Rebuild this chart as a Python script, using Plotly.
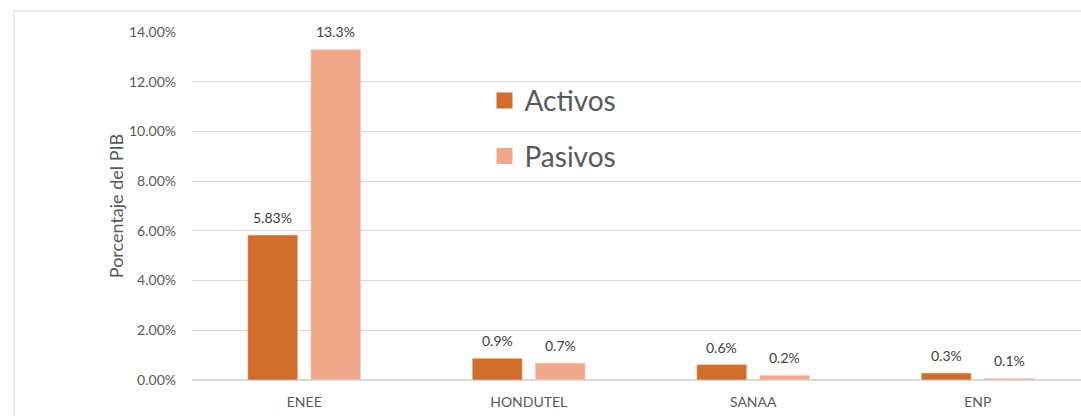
import plotly.graph_objects as go

categories = ["ENEE", "HONDUTEL", "SANAA", "ENP"]
activos = [5.83, 0.87, 0.62, 0.28]
pasivos = [13.3, 0.68, 0.19, 0.07]
activos_labels = ["5.83%", "0.9%", "0.6%", "0.3%"]
pasivos_labels = ["13.3%", "0.7%", "0.2%", "0.1%"]
y_ticks = [0, 2, 4, 6, 8, 10, 12, 14]
y_tick_labels = ["0.00%", "2.00%", "4.00%", "6.00%", "8.00%", "10.00%", "12.00%", "14.00%"]

C_ACT = "#D06D2B"
C_PAS = "#F1A88A"
FONT = "Lato, Open Sans, sans-serif"
TXT = "#595959"
BAR_SHIFT = 31.5  # half of a group slot, px

fig = go.Figure()
fig.add_trace(go.Bar(x=categories, y=activos, name="Activos", marker_color=C_ACT,
                     showlegend=False, hoverinfo="x+y"))
fig.add_trace(go.Bar(x=categories, y=pasivos, name="Pasivos", marker_color=C_PAS,
                     showlegend=False, hoverinfo="x+y"))
# legend entries
fig.add_trace(go.Scatter(x=[None], y=[None], mode="markers", name="Activos",
                         marker=dict(symbol="square", size=18, color=C_ACT),
                         legendgroup="a"))
fig.add_trace(go.Scatter(x=[None], y=[None], mode="markers", name="Pasivos",
                         marker=dict(symbol="square", size=18, color=C_PAS),
                         legendgroup="b"))

annotations = []
for cat, v, lab in zip(categories, activos, activos_labels):
    annotations.append(dict(x=cat, y=v, text=lab, xref="x", yref="y", showarrow=False,
                            xshift=-BAR_SHIFT, yshift=7, yanchor="bottom",
                            font=dict(size=14, color="#404040", family=FONT)))
for cat, v, lab in zip(categories, pasivos, pasivos_labels):
    annotations.append(dict(x=cat, y=v, text=lab, xref="x", yref="y", showarrow=False,
                            xshift=BAR_SHIFT, yshift=7, yanchor="bottom",
                            font=dict(size=14, color="#404040", family=FONT)))

fig.update_layout(
    width=1081, height=416,
    margin=dict(l=192, r=0, t=32, b=36, autoexpand=False),
    paper_bgcolor="white", plot_bgcolor="white",
    barmode="group", bargap=0.439, bargroupgap=0.206,
    font=dict(family=FONT, color=TXT),
    legend=dict(x=0.329, y=0.874, xanchor="left", yanchor="top",
                font=dict(size=28, color=TXT, family=FONT),
                bgcolor="rgba(0,0,0,0)", traceorder="grouped", tracegroupgap=16,
                itemsizing="trace"),
    annotations=annotations,
    shapes=[dict(type="rect", xref="paper", yref="paper",
                 x0=(14 - 192) / 889, x1=1.05, y0=-0.2, y1=(380 - 11) / 348,
                 line=dict(color="#d9d9d9", width=1), layer="below")],
)
fig.update_xaxes(range=[-0.5, 3.46], showgrid=False, zeroline=False, showline=False,
                 ticks="", tickfont=dict(size=14, color=TXT, family=FONT),
                 ticklabelstandoff=12, automargin=False)
fig.update_yaxes(range=[0, 14], tickvals=y_ticks, ticktext=y_tick_labels,
                 showgrid=True, gridcolor="#d9d9d9", gridwidth=1,
                 zeroline=True, zerolinecolor="#d9d9d9", showline=False,
                 tickfont=dict(size=14, color=TXT, family=FONT),
                 ticklabelstandoff=15, automargin=False,
                 title=dict(text="Porcentaje del PIB", font=dict(size=18, color=TXT, family=FONT),
                            standoff=0))

fig.write_html("out.html", config={"displayModeBar": False},
               post_script="document.body.style.margin='0';")
